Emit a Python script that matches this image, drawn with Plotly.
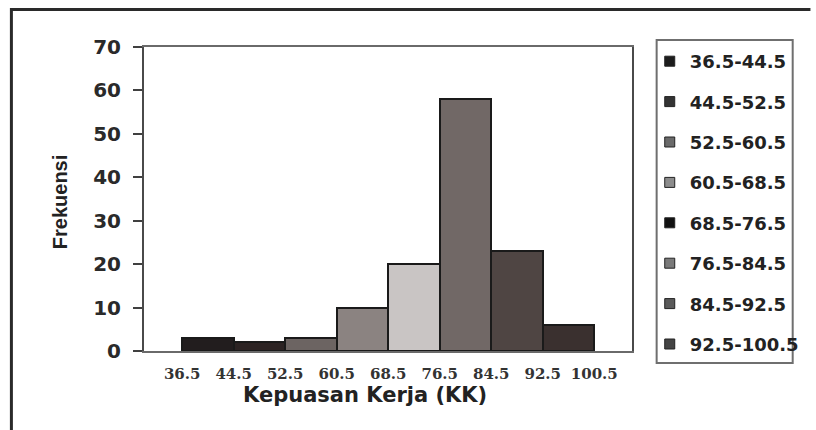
import plotly.graph_objects as go

# Frequency distribution of job satisfaction scores (class boundaries of width 8)
class_lower = [36.5, 44.5, 52.5, 60.5, 68.5, 76.5, 84.5, 92.5]
class_upper = [44.5, 52.5, 60.5, 68.5, 76.5, 84.5, 92.5, 100.5]
frequencies = [3, 2, 3, 10, 20, 58, 23, 6]
class_labels = [f"{lo:g}-{hi:g}" for lo, hi in zip(class_lower, class_upper)]
boundary_ticks = class_lower + [class_upper[-1]]
y_ticks = [0, 10, 20, 30, 40, 50, 60, 70]

bar_colors = ["#221d1e", "#2c2323", "#6c6462", "#8b8381",
              "#c9c5c4", "#716866", "#4f4543", "#3a302f"]
legend_colors = ["#1c1c1c", "#333333", "#6a6a6a", "#8c8c8c",
                 "#111111", "#7a7a7a", "#5a5a5a", "#444444"]

fig = go.Figure()

# Histogram bars: one trace per class so each keeps its own shade
for lo, hi, f, c, lab in zip(class_lower, class_upper, frequencies, bar_colors, class_labels):
    fig.add_trace(go.Bar(
        x=[(lo + hi) / 2], y=[f], width=[hi - lo],
        marker=dict(color=c, line=dict(color="#1a1a1a", width=2)),
        name=lab, showlegend=False,
    ))

# Legend entries with small square swatches
for c, lab in zip(legend_colors, class_labels):
    fig.add_trace(go.Scatter(
        x=[None], y=[None], mode="markers", name=lab, legendgroup=lab,
        marker=dict(symbol="square", size=10, color=c,
                    line=dict(color="#222222", width=1)),
    ))

W, H = 816, 430
L, R, T, B = 144, 177, 47, 79
pw, ph = W - L - R, H - T - B


def px_x(p):
    return (p - L) / pw


def px_y(p):
    return (H - B - p) / ph


fig.update_layout(
    width=W, height=H,
    margin=dict(l=L, r=R, t=T, b=B, pad=0),
    paper_bgcolor="white", plot_bgcolor="white",
    bargap=0,
    showlegend=True,
    legend=dict(
        x=px_x(657), y=px_y(43), xanchor="left", yanchor="top",
        font=dict(family="DejaVu Sans", size=18, color="#222222", weight="bold"),
        tracegroupgap=14, borderwidth=0, bgcolor="rgba(0,0,0,0)",
        maxheight=420,
        itemclick=False, itemdoubleclick=False,
    ),
    xaxis=dict(
        range=[30.57, 106.36],
        tickmode="array", tickvals=boundary_ticks,
        ticktext=[f"{v:g}" for v in boundary_ticks],
        ticks="", showgrid=False, zeroline=False,
        showline=True, linecolor="#6a6a6a", linewidth=2, mirror=True,
        tickfont=dict(family="DejaVu Serif", size=15, color="#333333", weight="bold"),
        ticklabelstandoff=8,
    ),
    yaxis=dict(
        range=[0, 70],
        tickmode="array", tickvals=y_ticks,
        ticks="outside", ticklen=9, tickwidth=2, tickcolor="#404040",
        showgrid=False, zeroline=False,
        showline=True, linecolor="#4a4a4a", linewidth=2, mirror=True,
        tickfont=dict(family="DejaVu Sans", size=20, color="#2a2a2a", weight="bold"),
        ticklabelstandoff=8,
    ),
    annotations=[
        dict(text="Frekuensi", xref="paper", yref="paper",
             x=px_x(59), y=px_y(202), xanchor="center", yanchor="middle",
             textangle=-90, showarrow=False,
             font=dict(family="Liberation Sans", size=20, color="#222222", weight="bold")),
        dict(text="Kepuasan Kerja (KK)", xref="paper", yref="paper",
             x=px_x(368), y=px_y(395), xanchor="center", yanchor="middle",
             showarrow=False,
             font=dict(family="DejaVu Sans", size=21, color="#222222", weight="bold")),
    ],
    shapes=[
        # outer frame (top and left edges)
        dict(type="line", xref="paper", yref="paper",
             x0=px_x(9), x1=px_x(820), y0=px_y(9.5), y1=px_y(9.5),
             line=dict(color="#2a2a2a", width=3)),
        dict(type="line", xref="paper", yref="paper",
             x0=px_x(9.5), x1=px_x(9.5), y0=px_y(8), y1=px_y(435),
             line=dict(color="#2a2a2a", width=3)),
        # legend box
        dict(type="rect", xref="paper", yref="paper",
             x0=px_x(664), x1=px_x(802), y0=px_y(363), y1=px_y(40),
             line=dict(color="#6f6f6f", width=2), fillcolor="rgba(0,0,0,0)"),
    ],
)

fig.write_html("out.html")
